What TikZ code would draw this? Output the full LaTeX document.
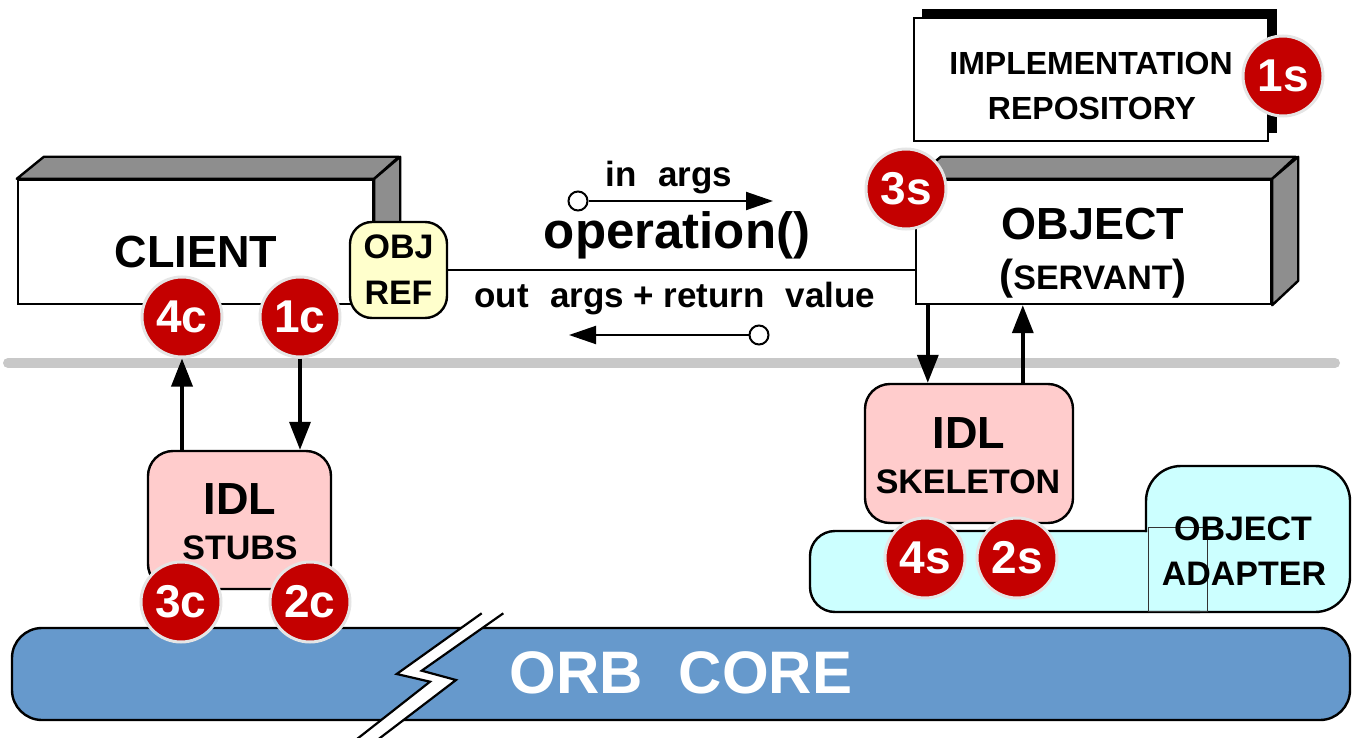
\documentclass[tikz,border=0pt]{standalone}
\usepackage{fontspec}
\setmainfont{Liberation Sans}
\usetikzlibrary{arrows.meta}
\definecolor{badgered}{HTML}{C40000}
\definecolor{pinkfill}{HTML}{FFCCCC}
\definecolor{cyanfill}{HTML}{CCFFFF}
\definecolor{yellowfill}{HTML}{FFFFCC}
\definecolor{orbblue}{HTML}{6699CC}
\definecolor{bandgray}{HTML}{C8C8C8}
\definecolor{sidegray}{HTML}{8E8E8E}
\newcommand\myfs[1]{\fontsize{#1}{#1}\selectfont\bfseries}
\begin{document}
\begin{tikzpicture}[x=1pt,y=-1pt,
  box/.style={draw, line width=2.4pt, fill=white, inner sep=0pt},
  side/.style={draw, line width=2.4pt, fill=sidegray, line join=round},
  pinkbox/.style={draw, line width=2.4pt, fill=pinkfill, rounded corners=25pt, inner sep=0pt},
  badge/.style={circle, fill=badgered, draw=black!10, line width=3pt, minimum size=80pt, inner sep=0pt, text=white, font=\myfs{46}},
  arr/.style={line width=3.6pt, -{Triangle[length=28pt,width=21pt]}},
  thinarr/.style={line width=2pt, -{Triangle[length=27pt,width=18pt]}},
  port/.style={circle, draw, line width=2pt, fill=white, minimum size=19pt, inner sep=0pt},
  lbl/.style={anchor=base, inner sep=0pt}]
\useasboundingbox (0,0) rectangle (1355,738);

% separator band
\draw[bandgray, line width=10pt, line cap=round] (8,363) -- (1335,363);

% implementation repository
\fill (922,9) rectangle (1277,133);
\node[box, minimum width=354pt, minimum height=123pt] (impl) at (1091,79.5) {};
\node[lbl, font=\myfs{32}] (impltxt1) at (1091,75) {IMPLEMENTATION};
\node[lbl, font=\myfs{32}] (impltxt2) at (1092,120) {REPOSITORY};

% client
\node[box, minimum width=355pt, minimum height=124pt] (client) at (195.5,242) {};
\draw[side] (client.north west) -- ++(27,-22) -- ++(355,0) -- (client.north east) -- cycle;
\draw[side] (client.north east) -- ++(26,-22) -- ++(0,124) -- (client.south east) -- cycle;
\node[lbl, font=\myfs{45}] (clienttxt) at (196,268) {CLIENT};

% object
\node[box, minimum width=355pt, minimum height=124pt] (object) at (1093.5,242) {};
\draw[side] (object.north west) -- ++(26,-22) -- ++(355,0) -- (object.north east) -- cycle;
\draw[side] (object.north east) -- ++(26,-22) -- ++(0,124) -- (object.south east) -- cycle;
\node[lbl, font=\myfs{45}] (objecttxt) at (1093,240) {OBJECT};
\node[lbl, font=\myfs{34}] (servanttxt) at (1093,290) {{\fontsize{42}{42}\selectfont(}SERVANT{\fontsize{42}{42}\selectfont)}};

% obj ref
\node[draw, line width=2.4pt, fill=yellowfill, rounded corners=22pt, minimum width=97pt, minimum height=96pt, align=center, inner sep=0pt, font=\fontsize{34}{46}\selectfont\bfseries] (objref) at (398.5,270) {OBJ\\REF};

% operation line
\draw[line width=2pt] (objref.east) -- (objref.east -| object.west);

\node[lbl, font=\myfs{35}] (inargs) at (669,187) {in\hspace{.6em}args};
\node[lbl, font=\myfs{51}] (op) at (677,248) {operation()};
\node[lbl, font=\myfs{35}] (outargs) at (675,307) {out\hspace{.6em}args + return\hspace{.6em}value};

\node[port] (inc) at (578,201) {};
\coordinate (inend) at (773,201);
\draw[thinarr] (inc) -- (inend);
\node[port] (outc) at (759,335) {};
\coordinate (outend) at (569,335);
\draw[thinarr] (outc) -- (outend);

% stubs
\node[pinkbox, minimum width=183pt, minimum height=138pt] (stubs) at (239.5,520) {};
\node[lbl, font=\myfs{45}] (stubs1) at (240,514) {IDL};
\node[lbl, font=\myfs{34}] (stubs2) at (240,559) {STUBS};

% skeleton
\node[pinkbox, minimum width=208pt, minimum height=139pt] (skeleton) at (969,453.5) {};
\node[lbl, font=\myfs{45}] (skel1) at (969,448) {IDL};
\node[lbl, font=\myfs{34}] (skel2) at (968,493) {SKELETON};

% object adapter
\fill[cyanfill, rounded corners=25pt] (810,531) rectangle (1250,612);
\fill[cyanfill, rounded corners=35pt] (1146,466) rectangle (1350,612);
\draw[line width=2.4pt, rounded corners=25pt] (1147,531) -- (810,531) -- (810,612) -- (1200,612);
\draw[line width=2.4pt, rounded corners=35pt] (1146,532) -- (1146,466) -- (1350,466) -- (1350,612) -- (1190,612);
\draw[line width=1pt, black!80] (1148,527) rectangle (1207,611);
\node[lbl, font=\myfs{34}] (ad1) at (1243,540) {OBJECT};
\node[lbl, font=\myfs{34}] (ad2) at (1244,585) {ADAPTER};

% orb core
\node[draw, line width=2.4pt, fill=orbblue, rounded corners=30pt, minimum width=1338pt, minimum height=92pt, inner sep=0pt] (orb) at (681,674) {};
\fill[white] (481.7,613.3) -- (396.7,674) -- (430,681.7) -- (349.4,745) -- (370.8,745) -- (456,680) -- (421.7,670.7) -- (503.3,613.3) -- cycle;
\draw[line width=2.2pt, line join=miter] (481.7,613.3) -- (396.7,674) -- (430,681.7) -- (349.4,745);
\draw[line width=2.2pt, line join=miter] (503.3,613.3) -- (421.7,670.7) -- (456,680) -- (370.8,745);
\node[lbl, font=\myfs{60}, text=white] (orbtxt) at (681,693) {ORB\hspace{.6em}CORE};

% badges
\node[badge] (b1s) at (1283,76) {1s};
\node[badge] (b3s) at (906,189) {3s};
\node[badge] (b4c) at (182,317) {4c};
\node[badge] (b1c) at (300,317) {1c};
\node[badge] (b3c) at (181,602) {3c};
\node[badge] (b2c) at (310,602) {2c};
\node[badge] (b4s) at (925,558) {4s};
\node[badge] (b2s) at (1017,558) {2s};

% vertical arrows
\draw[arr] (stubs.north -| b4c) -- (b4c.south);
\draw[arr] (b1c.south) -- (stubs.north -| b1c);
\coordinate (sk1) at ([xshift=64pt]skeleton.north west);
\coordinate (sk2) at ([xshift=159pt]skeleton.north west);
\draw[arr] (sk1 |- object.south) -- (sk1);
\draw[arr] (sk2) -- (sk2 |- object.south);
\end{tikzpicture}
\end{document}
